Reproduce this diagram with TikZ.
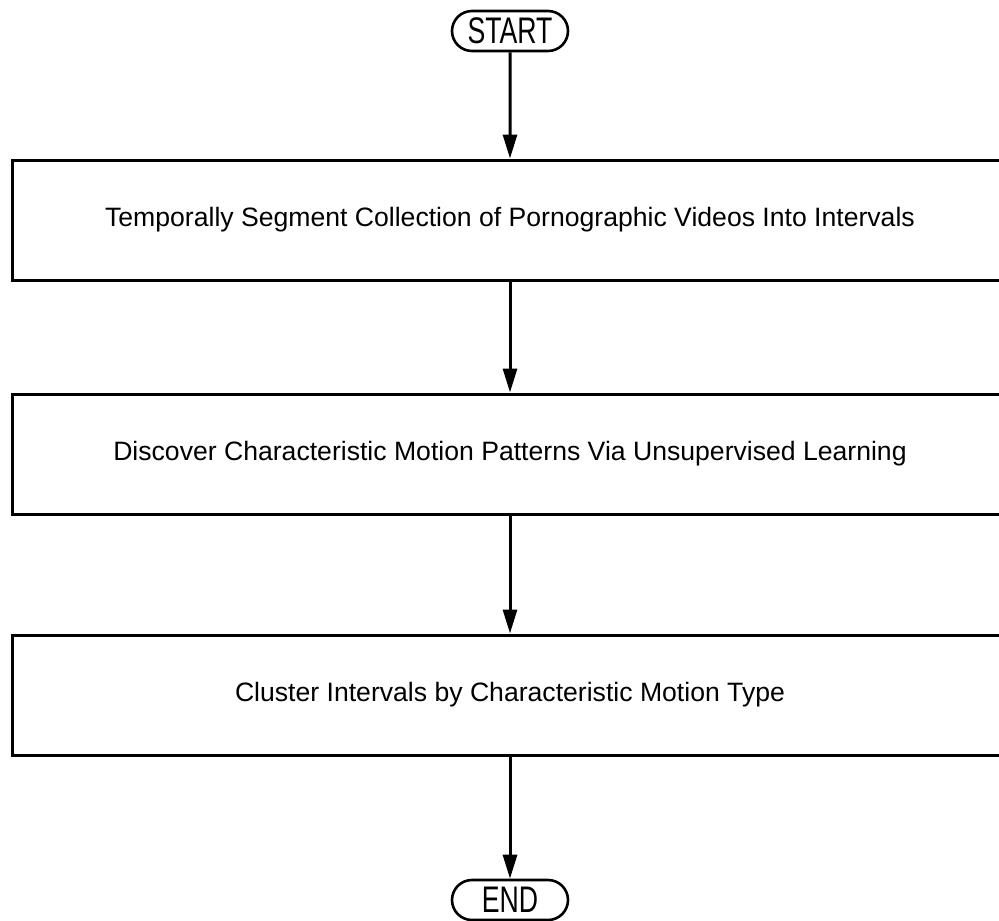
\documentclass[tikz,border=0pt]{standalone}
\usepackage{fontspec}
\setmainfont{Liberation Sans}
\newfontfamily\termfont[FakeStretch=0.72]{Liberation Sans}
\usepackage{tikz}
\usetikzlibrary{arrows.meta,shapes.misc}

\begin{document}
\begin{tikzpicture}[x=1pt,y=-1pt,
  stepbox/.style={draw,line width=3pt,minimum width=996pt,minimum height=120pt,font=\fontsize{26.6}{30}\selectfont},
  term/.style={draw,rounded rectangle,line width=2.6pt,minimum width=116pt,minimum height=40pt,inner sep=0pt,font=\termfont\fontsize{37}{37}\selectfont},
  flow/.style={line width=3pt,-{Triangle[length=24pt,width=14pt]}}]
\useasboundingbox (0,0) rectangle (999,921);
\node[term] (start) at (510,31) {START};
\node[stepbox] (seg) at (510,220) {Temporally Segment Collection of Pornographic Videos Into Intervals};
\node[stepbox] (disc) at (510,454) {Discover Characteristic Motion Patterns Via Unsupervised Learning};
\node[stepbox] (clus) at (510,695) {Cluster Intervals by Characteristic Motion Type};
\node[term] (end) at (510,900) {END};
\draw[flow] (start) -- (seg);
\draw[flow] (seg) -- (disc);
\draw[flow] (disc) -- (clus);
\draw[flow] (clus) -- (end);
\end{tikzpicture}
\end{document}
